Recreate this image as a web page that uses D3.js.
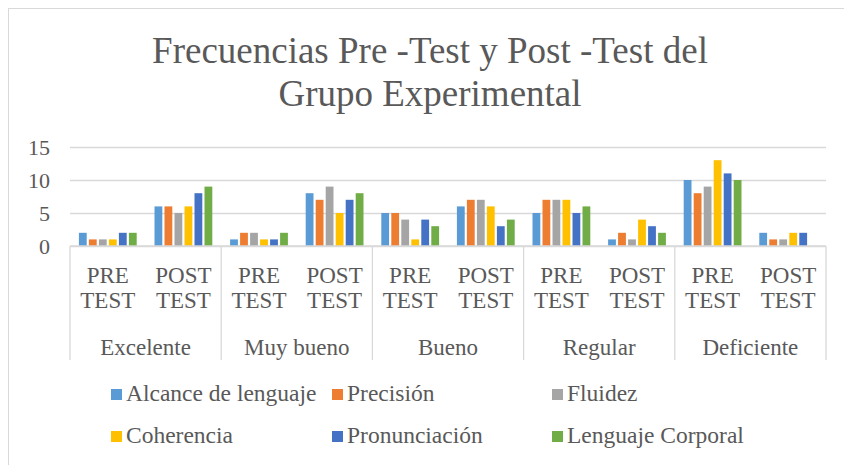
<!DOCTYPE html>
<html>
<head>
<meta charset="utf-8">
<script src="https://cdn.jsdelivr.net/npm/d3@7"></script>
<style>
  body { margin: 0; background: #fff; }
  svg text, svg tspan { font-family: "Liberation Serif", "Times New Roman", serif !important; fill: #595959; }
</style>
</head>
<body>
<div id="chart"></div>
<script>
// ---- Data
const groups = ['Excelente', 'Muy bueno', 'Bueno', 'Regular', 'Deficiente'];
const phases = ['PRE TEST', 'POST TEST'];
const seriesNames = ['Alcance de lenguaje', 'Precisión', 'Fluidez', 'Coherencia', 'Pronunciación', 'Lenguaje Corporal'];
const seriesColors = ['#5B9BD5', '#ED7D31', '#A5A5A5', '#FFC000', '#4472C4', '#70AD47'];
// one value per group/phase slot, in slot order
const alcance       = [2, 6, 1, 8, 5, 6, 5, 1, 10, 2];
const precision     = [1, 6, 2, 7, 5, 7, 7, 2, 8, 1];
const fluidez       = [1, 5, 2, 9, 4, 7, 7, 1, 9, 1];
const coherencia    = [1, 6, 1, 5, 1, 6, 7, 4, 13, 2];
const pronunciacion = [2, 8, 1, 7, 4, 3, 5, 3, 11, 2];
const corporal      = [2, 9, 2, 8, 3, 4, 6, 2, 10, 0];
const yTicks = [0, 5, 10, 15];

const seriesValues = [alcance, precision, fluidez, coherencia, pronunciacion, corporal];
const slots = [];
groups.forEach(g => phases.forEach(p => slots.push(g + '|' + p)));

const W = 844, H = 465;
const plot = { left: 70, right: 826, top: 147, bottom: 246 };
const FONT = '"Liberation Serif", "Times New Roman", serif';

const svg = d3.select('#chart').append('svg')
  .attr('width', W).attr('height', H)
  .attr('font-family', FONT);

// ---- Chart border
svg.append('rect')
  .attr('x', 8.5).attr('y', 8.5).attr('width', 900).attr('height', 600)
  .attr('fill', 'none').attr('stroke', '#d9d9d9').attr('stroke-width', 1);

// ---- Title
const title = svg.append('text').attr('text-anchor', 'middle')
  .attr('font-family', FONT).style('font-size', '37px');
title.append('tspan').attr('x', 430).attr('y', 63).text('Frecuencias Pre -Test y Post -Test del');
title.append('tspan').attr('x', 430).attr('y', 106).text('Grupo Experimental');

// ---- Scales
const x = d3.scaleBand().domain(slots).range([plot.left, plot.right]);
const xs = d3.scaleBand().domain(seriesNames).range([0, x.bandwidth()])
  .paddingInner(0.22).paddingOuter(0.89);
const y = d3.scaleLinear().domain([0, 15]).range([plot.bottom, plot.top]);

// ---- Gridlines + y labels
const yAxis = svg.append('g').attr('transform', `translate(${plot.left},0)`)
  .call(d3.axisLeft(y).tickValues(yTicks).tickSize(-(plot.right - plot.left)).tickPadding(20));
yAxis.attr('font-family', FONT);
yAxis.select('.domain').remove();
yAxis.selectAll('.tick line').attr('stroke', '#d9d9d9').attr('stroke-width', 1.3);
yAxis.selectAll('.tick text').attr('font-family', FONT).style('font-size', '22px').attr('fill', '#595959');

// ---- Bars
seriesNames.forEach((s, si) => {
  svg.append('g').selectAll('rect')
    .data(seriesValues[si])
    .join('rect')
    .attr('x', (d, i) => x(slots[i]) + xs(s))
    .attr('y', d => y(d))
    .attr('width', xs.bandwidth())
    .attr('height', d => y(0) - y(d))
    .attr('fill', seriesColors[si]);
});

// ---- Category axis (multi-level)
const cat = svg.append('g');
cat.append('line')
  .attr('x1', plot.left).attr('x2', plot.right)
  .attr('y1', plot.bottom).attr('y2', plot.bottom)
  .attr('stroke', '#d9d9d9').attr('stroke-width', 1.3);
const sepX = groups.map(g => x(g + '|' + phases[0])).concat([plot.right]);
cat.selectAll('.sep').data(sepX).join('line')
  .attr('x1', d => d).attr('x2', d => d)
  .attr('y1', plot.bottom).attr('y2', 360)
  .attr('stroke', '#d9d9d9').attr('stroke-width', 1.3);
cat.selectAll('.phase').data(slots).join('text')
  .attr('text-anchor', 'middle').attr('font-family', FONT).style('font-size', '23px')
  .each(function (d) {
    const words = d.split('|')[1].split(' ');
    const t = d3.select(this);
    words.forEach((w, k) => t.append('tspan')
      .attr('x', x(d) + x.bandwidth() / 2).attr('y', 283 + k * 25).text(w));
  });
cat.selectAll('.grp').data(groups).join('text')
  .attr('text-anchor', 'middle').attr('font-family', FONT).style('font-size', '23px')
  .attr('x', g => x(g + '|' + phases[0]) + x.bandwidth())
  .attr('y', 355)
  .text(g => g);

// ---- Legend
const legendCols = [111, 332, 552];
const legend = svg.append('g');
seriesNames.forEach((s, i) => {
  const lx = legendCols[i % 3], ly = 389 + Math.floor(i / 3) * 42;
  legend.append('rect').attr('x', lx).attr('y', ly).attr('width', 11).attr('height', 11)
    .attr('fill', seriesColors[i]);
  legend.append('text').attr('x', lx + 15).attr('y', ly + 12)
    .attr('font-family', FONT).style('font-size', '23.5px').text(s);
});
</script>
</body>
</html>
